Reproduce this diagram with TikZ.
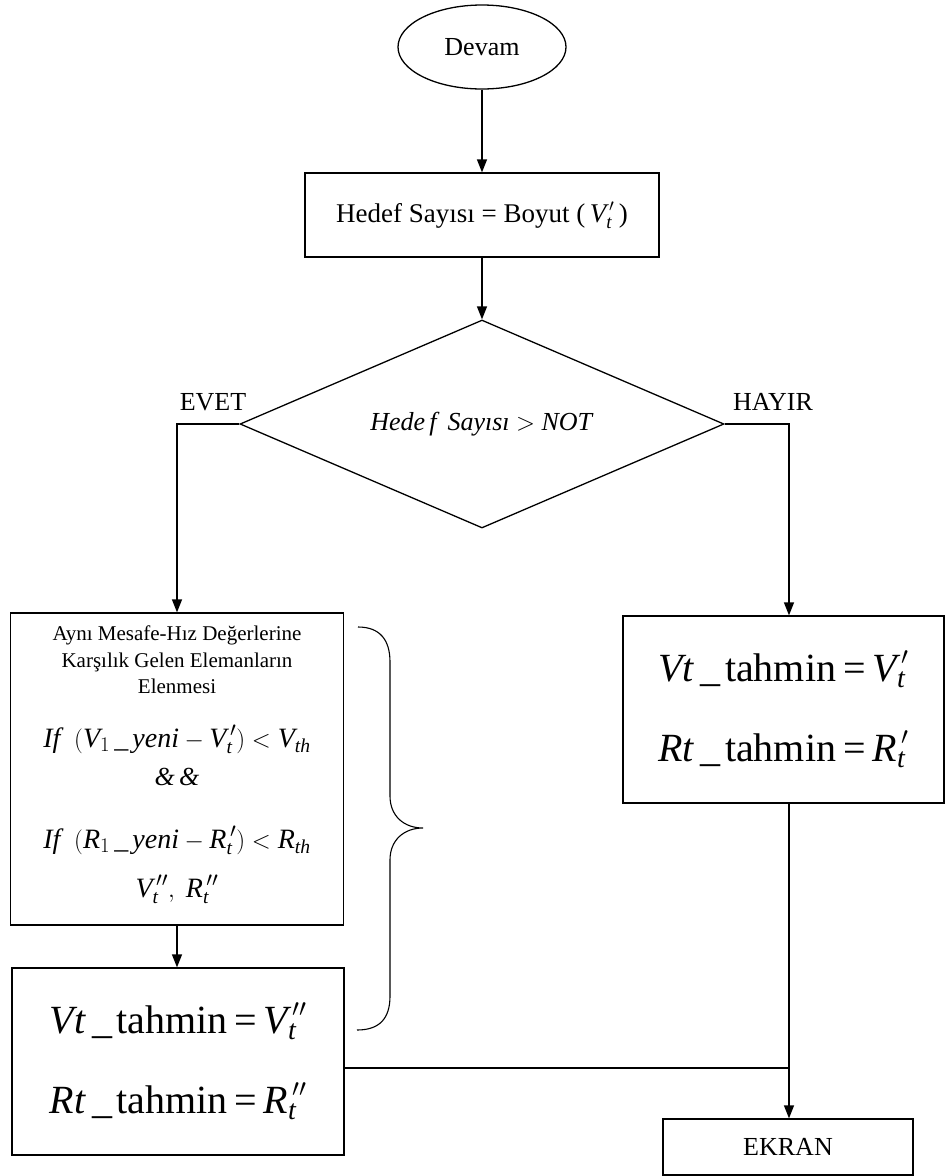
\documentclass[tikz,border=0pt]{standalone}
\usepackage{amsmath}
\usepackage{fontspec}
\setmainfont{Liberation Serif}
\usetikzlibrary{shapes.geometric,arrows.meta}
\newcommand{\iv}[1]{\textit{#1}}
\newcommand{\eqsign}{\mathrel{\text{=}}}
\begin{document}
\begin{tikzpicture}[x=1pt,y=-1pt,
  line width=1.3pt,
  arr/.style={-{Triangle[length=13pt,width=10pt]}},
  boxed/.style={draw,rectangle,inner sep=0pt},
  lbl/.style={anchor=base,inner sep=0pt},
  fmid/.style={font=\fontsize{26}{30}\selectfont},
  fbox/.style={font=\fontsize{27}{30}\selectfont},
  fsmall/.style={font=\fontsize{21}{27}\selectfont},
  fmath/.style={font=\fontsize{28}{34}\selectfont},
  fbig/.style={font=\fontsize{40}{80}\selectfont},
]
\useasboundingbox (0,0) rectangle (945,1176);

\node[draw,ellipse,minimum width=168,minimum height=84,inner sep=0pt,fmid] (devam) at (482,47) {Devam};
\node[boxed,minimum width=354,minimum height=84,fbox] (hedef) at (482,215) {Hedef Sayısı = Boyut (\,$\iv{V}_{\iv{t}}^{\,\prime}$\,)};
\node[draw,diamond,aspect=2.33,minimum width=484,minimum height=208,inner sep=0pt,fmid] (dia) at (482,424) {\iv{Hede\,f\, Sayısı} $>$ \iv{NOT}};

\node[lbl,fmid] (evet) at (213,410) {EVET};
\node[lbl,fmid] (hayir) at (773,410) {HAYIR};

% left elimination box
\node[boxed,minimum width=333,minimum height=312] (elen) at (177,769) {};
\node[lbl,fsmall] (l1) at (177,640) {Aynı Mesafe-Hız Değerlerine};
\node[lbl,fsmall] (l2) at (177,667) {Karşılık Gelen Elemanların};
\node[lbl,fsmall] (l3) at (177,693) {Elenmesi};
\node[lbl,fmath] (l4) at (177,747) {$\iv{If}\;\;(\iv{V}_{1}\,\_\,\iv{yeni} - \iv{V}_{\iv{t}}^{\,\prime}) < \iv{V}_{\iv{th}}$};
\node[lbl,fmid] (l5) at (177,785) {\iv{\&\,\&}};
\node[lbl,fmath] (l6) at (177,848) {$\iv{If}\;\;(\iv{R}_{1}\,\_\,\iv{yeni} - \iv{R}_{\iv{t}}^{\,\prime}) < \iv{R}_{\iv{th}}$};
\node[lbl,fmath] (l7) at (177,897) {$\iv{V}_{\iv{t}}^{\,\prime\prime},\;\iv{R}_{\iv{t}}^{\,\prime\prime}$};

% estimate boxes
\node[boxed,minimum width=332,minimum height=187,align=center,fbig] (tah2) at (178,1061.5)
  {$\iv{Vt}\;\_\,\text{tahmin} \eqsign \iv{V}_{\iv{t}}^{\,\prime\prime}$\\$\iv{Rt}\;\_\,\text{tahmin} \eqsign \iv{R}_{\iv{t}}^{\,\prime\prime}$};
\node[boxed,minimum width=321,minimum height=187,align=center,fbig] (tah1) at (783.5,709.5)
  {$\iv{Vt}\;\_\,\text{tahmin} \eqsign \iv{V}_{\iv{t}}^{\,\prime}$\\$\iv{Rt}\;\_\,\text{tahmin} \eqsign \iv{R}_{\iv{t}}^{\,\prime}$};
\node[boxed,minimum width=250,minimum height=56,fmid] (ekran) at (788,1147) {EKRAN};

% connectors
\coordinate (hx) at (789,0);
\coordinate (j) at (789,1068);
\draw[arr] (devam) -- (hedef);
\draw[arr] (hedef) -- (dia);
\draw[arr] (dia.west) -| (elen.north);
\draw[arr] (dia.east) -| (hx |- tah1.north);
\draw[arr] (elen.south) -- (elen.south |- tah2.north);
\draw[arr] (hx |- tah1.south) -- (hx |- ekran.north);
\draw (tah2.east |- j) -- (j);

% brace
\draw[line width=1.1pt] (358,627) .. controls (380,627) and (390,640) .. (390,662)
  -- (390,796) .. controls (390,816) and (404,828) .. (423,828)
  .. controls (404,828) and (390,840) .. (390,860)
  -- (390,996) .. controls (390,1018) and (380,1030) .. (357,1030);
\end{tikzpicture}
\end{document}
